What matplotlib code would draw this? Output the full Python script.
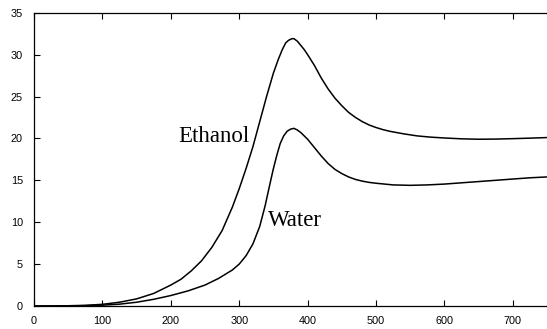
import matplotlib
matplotlib.use("Agg")
import matplotlib.pyplot as plt

ethanol_x = [0, 25, 50, 75, 100, 125, 150, 175, 200, 215, 230, 245, 260, 275, 290, 300, 310, 320, 330,
             340, 350, 357, 363, 368, 372, 377, 380, 385, 390, 395, 400, 410, 420, 430, 440, 450, 460,
             470, 480, 490, 500, 510, 520, 540, 560, 580, 600, 625, 650, 675, 700, 725, 750]
ethanol_y = [0, 0.01, 0.03, 0.08, 0.2, 0.45, 0.85, 1.5, 2.5, 3.2, 4.2, 5.4, 7.0, 9.0, 11.8, 14.0, 16.4,
             19.0, 22.0, 25.0, 27.8, 29.4, 30.6, 31.4, 31.7, 31.9, 31.9, 31.6, 31.1, 30.6, 30.0, 28.7,
             27.2, 25.9, 24.8, 23.9, 23.1, 22.5, 22.0, 21.6, 21.3, 21.05, 20.85, 20.55, 20.3, 20.15,
             20.05, 19.95, 19.9, 19.92, 19.97, 20.03, 20.1]

water_x = [0, 25, 50, 75, 100, 125, 150, 175, 200, 225, 250, 270, 290, 300, 310, 320, 330, 338, 345,
           350, 355, 360, 365, 370, 375, 380, 385, 390, 395, 400, 410, 420, 430, 440, 450, 460, 470,
           480, 490, 500, 525, 550, 575, 600, 625, 650, 675, 700, 725, 750]
water_y = [0, 0.005, 0.01, 0.04, 0.1, 0.22, 0.45, 0.8, 1.25, 1.8, 2.5, 3.3, 4.3, 5.0, 6.0, 7.4, 9.5,
           12.0, 14.6, 16.4, 18.0, 19.4, 20.3, 20.85, 21.1, 21.2, 21.0, 20.7, 20.3, 19.9, 18.9, 17.9,
           17.0, 16.3, 15.8, 15.4, 15.1, 14.9, 14.75, 14.65, 14.45, 14.4, 14.45, 14.55, 14.7, 14.85,
           15.0, 15.15, 15.3, 15.4]

x_ticks = [0, 100, 200, 300, 400, 500, 600, 700]
y_ticks = [0, 5, 10, 15, 20, 25, 30, 35]

fig = plt.figure(figsize=(5.47, 3.29), dpi=100)
ax = fig.add_axes([0.0622, 0.0699, 0.9378, 0.8915])

ax.plot(ethanol_x, ethanol_y, color="black", lw=1.1)
ax.plot(water_x, water_y, color="black", lw=1.1)

ax.set_xlim(0, 750)
ax.set_ylim(0, 35)
ax.set_xticks(x_ticks)
ax.set_yticks(y_ticks)
ax.spines["right"].set_visible(False)
for s in ["left", "top", "bottom"]:
    ax.spines[s].set_linewidth(0.9)
ax.tick_params(direction="in", length=4, width=0.8, top=True, right=False,
               labelsize=7.8, pad=8)
ax.tick_params(axis="x", pad=7)
for lab in ax.get_xticklabels() + ax.get_yticklabels():
    lab.set_fontfamily("Liberation Sans")

ax.text(315.8, 19.6, "Ethanol", ha="right", va="baseline",
        fontfamily="Liberation Serif", fontsize=16.5)
ax.text(342.5, 9.55, "Water", ha="left", va="baseline",
        fontfamily="Liberation Serif", fontsize=16.5)

fig.savefig("out.png", dpi=100)
